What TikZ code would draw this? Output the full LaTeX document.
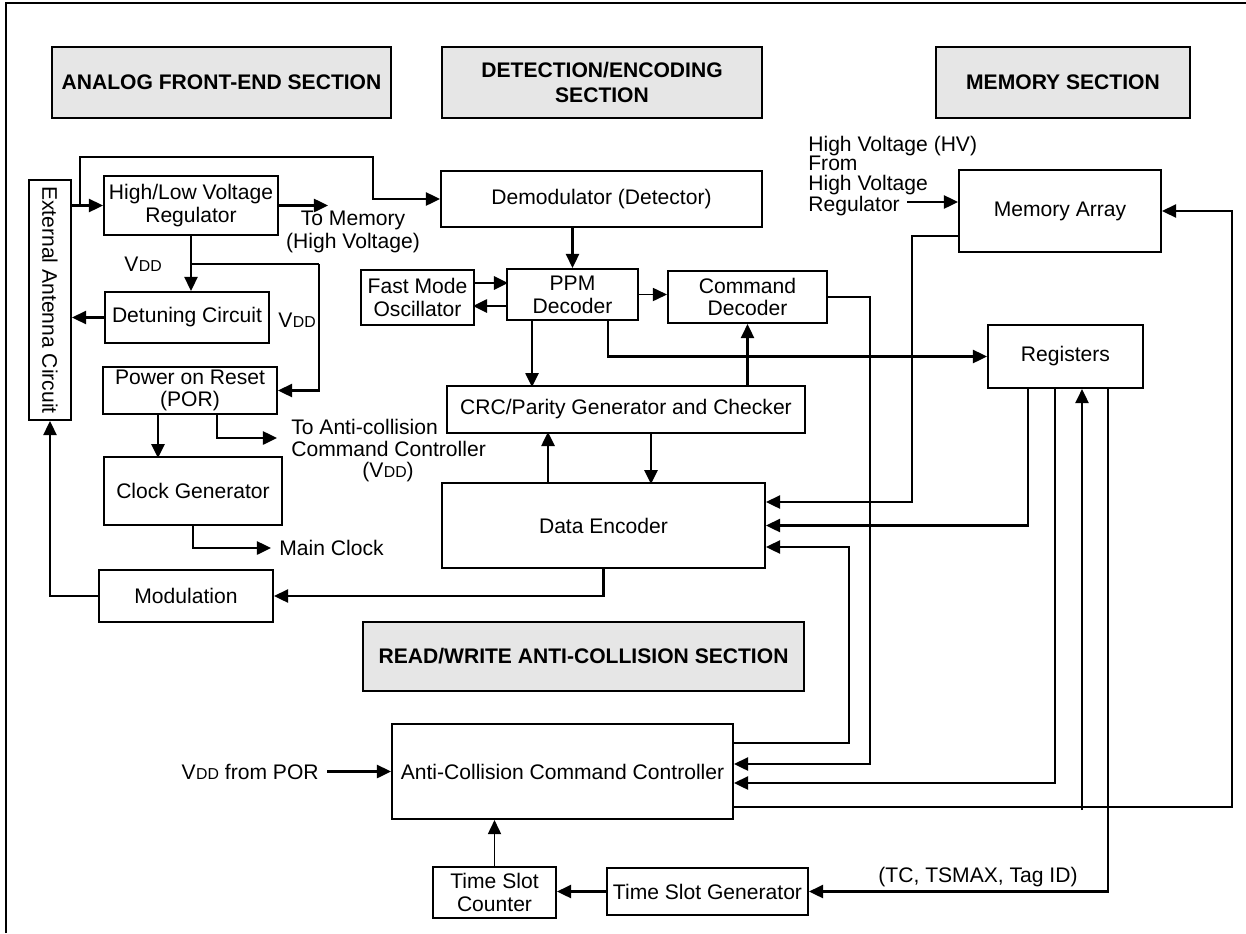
\documentclass[tikz,border=0pt]{standalone}
\usepackage{fontspec}
\setmainfont{Liberation Sans}
\usetikzlibrary{arrows.meta}
\definecolor{secgray}{RGB}{230,230,230}
\newcommand{\vdd}{V\kern0.3pt{\fontsize{9}{9}\selectfont DD}}
\tikzset{
  blk/.style={draw, line width=1.2pt, align=center, inner sep=1pt},
  sect/.style={draw, line width=1.4pt, fill=secgray, align=center, font=\fontsize{12}{14}\selectfont\bfseries},
  wire/.style={line width=1.2pt},
  thinwire/.style={line width=0.7pt},
  lbl/.style={inner sep=0pt, align=left}
}
\begin{document}
\begin{tikzpicture}[x=0.02cm, y=-0.02cm, font=\fontsize{12}{13}\selectfont, >={Triangle[length=8pt,width=7.5pt]}]
\useasboundingbox (0,0) rectangle (1246,933);
\draw[line width=1.4pt] (6,933) -- (6,3) -- (1246,3);

\node[sect, minimum width=6.78cm, minimum height=1.42cm] (secAnalog) at (221.5,82.5) {ANALOG FRONT-END SECTION};
\node[sect, minimum width=6.4cm, minimum height=1.42cm] (secDetect) at (602,82.5) {DETECTION/ENCODING\\ SECTION};
\node[sect, minimum width=5.08cm, minimum height=1.42cm] (secMem) at (1063,82.5) {MEMORY SECTION};
\node[sect, minimum width=8.82cm, minimum height=1.38cm] (secRW) at (583.5,656.5) {READ/WRITE ANTI-COLLISION SECTION};

\node[blk, minimum width=0.84cm, minimum height=4.8cm] (ant) at (50,300) {};
\node[rotate=-90] (antlbl) at (ant.center) {External Antenna Circuit};
\node[blk, minimum width=3.48cm, minimum height=1.18cm] (reg) at (191,205.5) {High/Low Voltage\\ Regulator};
\node[blk, minimum width=3.28cm, minimum height=1.02cm] (det) at (187,317.5) {Detuning Circuit};
\node[blk, minimum width=3.48cm, minimum height=0.94cm] (por) at (190,390.5) {Power on Reset\\ (POR)};
\node[blk, minimum width=3.56cm, minimum height=1.36cm] (clk) at (193,491) {Clock Generator};
\node[blk, minimum width=3.48cm, minimum height=1.04cm] (mod) at (186,596) {Modulation};

\node[blk, minimum width=6.42cm, minimum height=1.12cm] (demod) at (601.5,199) {Demodulator (Detector)};
\node[blk, minimum width=2.26cm, minimum height=1.10cm] (fast) at (417.5,297.5) {Fast Mode\\ Oscillator};
\node[blk, minimum width=2.62cm, minimum height=1.02cm] (ppm) at (572.5,294.5) {PPM\\ Decoder};
\node[blk, minimum width=3.18cm, minimum height=1.04cm] (cmd) at (747.5,297) {Command\\ Decoder};
\node[blk, minimum width=7.16cm, minimum height=0.94cm] (crc) at (626,409.5) {CRC/Parity Generator and Checker};
\node[blk, minimum width=6.46cm, minimum height=1.70cm] (enc) at (603.5,525.5) {Data Encoder};

\node[blk, minimum width=4.04cm, minimum height=1.64cm] (mem) at (1060,211) {Memory Array};
\node[blk, minimum width=3.10cm, minimum height=1.26cm] (regs) at (1065.5,356.5) {Registers};

\node[blk, minimum width=6.82cm, minimum height=1.90cm] (acc) at (562.5,771.5) {Anti-Collision Command Controller};
\node[blk, minimum width=2.46cm, minimum height=1.02cm] (tsc) at (494.5,892.5) {Time Slot\\ Counter};
\node[blk, minimum width=4.02cm, minimum height=0.94cm] (tsg) at (707.5,891.5) {Time Slot Generator};

\node[lbl, align=center] (tomemlbl) at (353,232) {To Memory\\ (High Voltage)};
\node[lbl] (vddA) at (143,264) {\vdd};
\node[lbl] (vddB) at (297,320) {\vdd};
\node[lbl, anchor=west] (acclbl) at (291,438) {To Anti-collision\\ Command Controller};
\node[lbl] (acclblb) at (388,472) {(\vdd)};
\node[lbl, anchor=west] (mclklbl) at (279,548) {Main Clock};
\node[lbl, anchor=west, font=\fontsize{12}{11}\selectfont] (hvlbl) at (808,176) {High Voltage (HV)\\ From\\ High Voltage\\ Regulator};
\node[lbl] (tslbl) at (978,877) {(TC, TSMAX, Tag ID)};
\node[lbl, anchor=east] (vddporlbl) at (319,771.5) {\vdd{} from POR};

\coordinate (tap) at (80,205.5);
\coordinate (vddtap) at (191,264);
\coordinate (tomem) at (328,205.5);
\coordinate (toacc) at (277,438);
\coordinate (mclk) at (271,548);
\coordinate (hvin) at (907,202);
\coordinate (regin) at (1082,810);
\coordinate (vddin) at (327,771.5);
\coordinate (memOut) at ([yshift=-0.5cm]mem.west);
\coordinate (encInA) at ([yshift=0.47cm]enc.east);
\coordinate (encInC) at ([yshift=-0.43cm]enc.east);
\coordinate (accInA) at ([yshift=0.15cm]acc.east);
\coordinate (accInB) at ([yshift=-0.23cm]acc.east);
\coordinate (accOutA) at ([yshift=0.57cm]acc.east);
\coordinate (accOutB) at ([yshift=-0.71cm]acc.east);

\draw[wire, ->] (ant.east |- reg.west) -- (reg.west);
\draw[wire, ->] (tap) -- ++(0,-48.5) -- ++(293,0) |- (demod.west);
\draw[wire, ->] (reg.east) -- (tomem);
\draw[wire, ->] (reg.south) -- (reg.south |- det.north);
\draw[thinwire] (vddtap) -- ++(128,0);
\draw[wire, ->] ([xshift=128*0.02cm]vddtap) |- (por.east);
\draw[wire, ->] (det.west) -- (det.west -| ant.east);
\draw[wire, ->] ([xshift=-0.64cm]por.south) -- ++(0,43);
\draw[wire, ->] ([xshift=0.54cm]por.south) |- (toacc);
\draw[wire, ->] (clk.south) |- (mclk);
\draw[wire, ->] (mod.west) -| (ant.south);
\draw[wire, ->] (enc.south) |- (mod.east);

\draw[wire, ->] (ppm.north |- demod.south) -- (ppm.north);
\draw[wire, ->] ([yshift=0.29cm]fast.east) -- ++(33,0);
\draw[wire, ->] ([yshift=-0.23cm]ppm.west) -- ++(-33,0);
\draw[thinwire, ->] (ppm.east) -- (ppm.east -| cmd.west);
\draw[wire, ->] ([xshift=-0.81cm]ppm.south) -- ++(0,66);
\draw[wire, ->] ([xshift=0.71cm]ppm.south) |- (regs.west);
\draw[wire, ->] (cmd.south |- crc.north) -- (cmd.south);
\draw[wire, ->] ([xshift=0.5cm]crc.south) -- ++(0,50);
\draw[wire, ->] ([xshift=-1.11cm]enc.north) -- ++(0,-50);

\draw[wire, ->] (hvin) -- (hvin -| mem.west);
\draw[wire, ->] (memOut) -- ++(-46,0) |- (encInA);
\draw[wire, ->] ([xshift=-0.75cm]regs.south) |- (enc.east);
\draw[wire, ->] ([xshift=-0.21cm]regs.south) |- (accInB);
\draw[wire, ->] (regin) -- (regin |- regs.south);
\draw[wire, ->] ([xshift=0.85cm]regs.south) |- (tsg.east);
\draw[wire, ->] (cmd.east) -- ++(42,0) |- (accInA);
\draw[wire, ->] (accOutA) -- ++(115,0) |- (encInC);
\draw[wire, ->] (accOutB) -- ++(498,0) |- (mem.east);

\draw[wire, ->] (vddin) -- (acc.west);
\draw[thinwire, ->] (tsc.north) -- (tsc.north |- acc.south);
\draw[wire, ->] (tsg.west) -- (tsg.west -| tsc.east);
\end{tikzpicture}
\end{document}
